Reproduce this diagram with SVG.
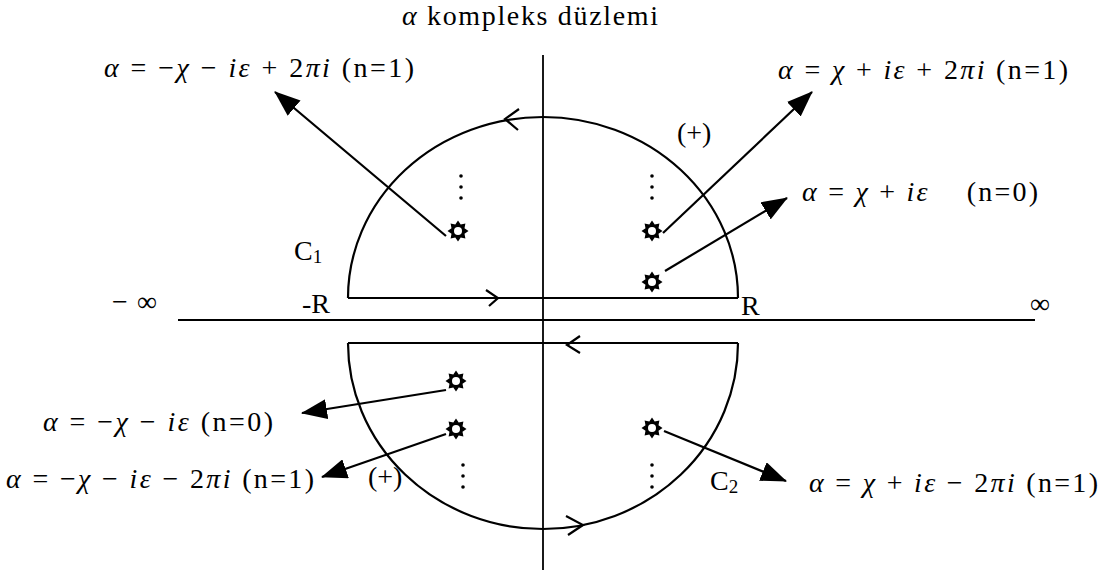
<svg xmlns="http://www.w3.org/2000/svg" width="1107" height="574" viewBox="0 0 1107 574">
<style>
text{font-family:"Liberation Serif","Times New Roman",serif;font-size:28px;fill:#000}
.i{font-style:italic}
.ax{stroke:#000;stroke-width:1.8;fill:none}
.ct{stroke:#000;stroke-width:2.2;fill:none}
.ar{stroke:#000;stroke-width:2.2;fill:none}
.dot{fill:#000}
</style>
<defs>
<marker id="ah2" viewBox="0 0 26 20" refX="25" refY="10" markerWidth="26" markerHeight="20" markerUnits="userSpaceOnUse" orient="auto">
<path d="M0,0 L26,10 L0,20 z" fill="#000"/>
</marker>
<g id="star">
<path d="M0,-10.5 L2.7,-6.5 L7.4,-7.4 L6.5,-2.7 L10.5,0 L6.5,2.7 L7.4,7.4 L2.7,6.5 L0,10.5 L-2.7,6.5 L-7.4,7.4 L-6.5,2.7 L-10.5,0 L-6.5,-2.7 L-7.4,-7.4 L-2.7,-6.5 z" fill="#000"/>
<circle r="4" fill="#fff"/>
</g>
<g id="vdots">
<circle cx="0" cy="0" r="1.8"/>
<circle cx="0" cy="11" r="1.8"/>
<circle cx="0" cy="22" r="1.8"/>
</g>
</defs>

<g id="axes">
<line class="ax" x1="543" y1="55" x2="543" y2="570"/>
<line class="ax" x1="178" y1="320" x2="1035" y2="320"/>
</g>

<g id="contour-C1">
<path class="ct" d="M348,298 L738,298 M348,298 A195,181 0 0 1 738,298"/>
<path class="ct" d="M486,290 L498,298 L489,306"/>
<path class="ct" d="M519,109 L505,119 L518,130"/>
</g>

<g id="contour-C2">
<path class="ct" d="M580,336 L567,345 L580,353"/>
<path class="ct" d="M348,343 L738,343 M348,343 A195,186 0 0 0 738,343"/>
<path class="ct" d="M566,516 L583,525 L568,535"/>
</g>

<g id="poles">
<use href="#star" x="458" y="231"/>
<use href="#star" x="652" y="231"/>
<use href="#star" x="652" y="282"/>
<use href="#star" x="456" y="381"/>
<use href="#star" x="456" y="429"/>
<use href="#star" x="652" y="428"/>
<use href="#vdots" x="461" y="176" class="dot"/>
<use href="#vdots" x="652" y="176" class="dot"/>
<use href="#vdots" x="463" y="465" class="dot"/>
<use href="#vdots" x="652" y="465" class="dot"/>
</g>

<g id="connectors">
<line class="ar" x1="446" y1="236" x2="275" y2="92" marker-end="url(#ah2)"/>
<line class="ar" x1="663" y1="233" x2="812" y2="92" marker-end="url(#ah2)"/>
<line class="ar" x1="665" y1="271" x2="787" y2="198" marker-end="url(#ah2)"/>
<line class="ar" x1="446" y1="390" x2="302" y2="413" marker-end="url(#ah2)"/>
<line class="ar" x1="446" y1="434" x2="322" y2="477" marker-end="url(#ah2)"/>
<line class="ar" x1="664" y1="431" x2="786" y2="481" marker-end="url(#ah2)"/>
</g>

<g id="title"><text x="402" y="25" font-size="30" textLength="256"><tspan class="i">α</tspan> kompleks düzlemi</text></g>

<g id="label-tl"><text x="104" y="77" textLength="310"><tspan class="i">α</tspan> = −<tspan class="i">χ</tspan> − <tspan class="i">iε</tspan> + 2<tspan class="i">πi</tspan> (n=1)</text></g>
<g id="label-tr"><text x="778" y="79" textLength="290"><tspan class="i">α</tspan> = <tspan class="i">χ</tspan> + <tspan class="i">iε</tspan> + 2<tspan class="i">πi</tspan> (n=1)</text></g>
<g id="label-plus-top"><text x="677" y="142">(+)</text></g>
<g id="label-r0"><text x="802" y="201" textLength="236" xml:space="preserve"><tspan class="i">α</tspan> = <tspan class="i">χ</tspan> + <tspan class="i">iε</tspan>    (n=0)</text></g>
<g id="label-C1"><text x="294" y="260">C<tspan font-size="19" dy="3">1</tspan></text></g>
<g id="label-minf"><text x="112" y="311" textLength="45">− ∞</text></g>
<g id="label-mR"><text x="302" y="313">-R</text></g>
<g id="label-R"><text x="741" y="315">R</text></g>
<g id="label-inf"><text x="1030" y="313">∞</text></g>
<g id="label-l0"><text x="43" y="431" textLength="230"><tspan class="i">α</tspan> = −<tspan class="i">χ</tspan> − <tspan class="i">iε</tspan> (n=0)</text></g>
<g id="label-l1"><text x="6" y="488" textLength="308"><tspan class="i">α</tspan> = −<tspan class="i">χ</tspan> − <tspan class="i">iε</tspan> − 2<tspan class="i">πi</tspan> (n=1)</text></g>
<g id="label-plus-bot"><text x="368" y="486">(+)</text></g>
<g id="label-C2"><text x="710" y="490">C<tspan font-size="19" dy="3">2</tspan></text></g>
<g id="label-br"><text x="809" y="492" textLength="289"><tspan class="i">α</tspan> = <tspan class="i">χ</tspan> + <tspan class="i">iε</tspan> − 2<tspan class="i">πi</tspan> (n=1)</text></g>
</svg>
